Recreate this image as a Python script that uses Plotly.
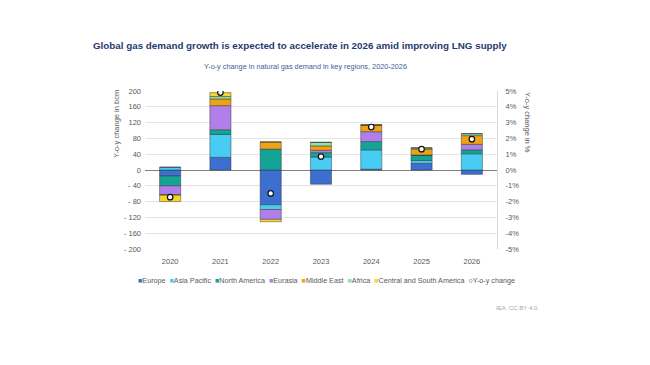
import plotly.graph_objects as go

years = ["2020", "2021", "2022", "2023", "2024", "2025", "2026"]
europe = [-15, 32, -88, -36, 2, 17, -11]
asia_pacific = [7, 58, -12, 33, 49, 7, 41]
north_america = [-25, 12, 53, 11, 21, 14, 10]
eurasia = [-22, 61, -25, 6, 25, 0, 14]
middle_east = [-2, 17, 18, 11, 17, 15, 22]
africa = [0, 6, 0, 9, 0, 3, 5]
central_south_america = [-16, 10, -6, 0, 0, 0, 0]
yoy_pct = [-1.72, 4.9, -1.48, 0.85, 2.72, 1.32, 1.95]

series_names = ["Europe", "Asia Pacific", "North America", "Eurasia", "Middle East", "Africa",
                "Central and South America"]
series_values = [europe, asia_pacific, north_america, eurasia, middle_east, africa, central_south_america]
series_colors = ["#3C6FCF", "#48CCF4", "#14A394", "#B07FEA", "#EFA314", "#8FE3A2", "#F6D52F"]

left_ticks = [200, 160, 120, 80, 40, 0, -40, -80, -120, -160, -200]
left_ticktext = ["200", "160", "120", "80", "40", "0", "- 40", "- 80", "- 120", "- 160", "- 200"]
right_ticks = [5, 4, 3, 2, 1, 0, -1, -2, -3, -4, -5]
right_ticktext = ["5%", "4%", "3%", "2%", "1%", "0%", "-1%", "-2%", "-3%", "-4%", "-5%"]

FONT = "Liberation Sans, Arial, sans-serif"
GRAY = "#595959"

OFF = 8  # page body margin
PL, PR, PT, PB = 145, 497, 91, 249.5  # plot area in page pixels
W, H = 650, 365


def px(xp):
    return (xp - PL) / (PR - PL)


def py(yp):
    return (PB - yp) / (PB - PT)


fig = go.Figure()
for name, vals, col in zip(series_names, series_values, series_colors):
    fig.add_trace(go.Bar(
        x=years, y=vals, name=name,
        marker=dict(color=col, line=dict(color="rgba(45,45,45,0.75)", width=0.6)),
        showlegend=False,
    ))

fig.add_trace(go.Scatter(
    x=years, y=yoy_pct, name="Y-o-y change", mode="markers", yaxis="y2",
    marker=dict(symbol="circle", size=5.5, color="white", line=dict(color="#111111", width=1.2)),
    showlegend=False,
))

fig.update_layout(
    width=W, height=H,
    margin=dict(l=PL - OFF, r=W - (PR - OFF), t=PT - OFF, b=H - (PB - OFF), pad=0),
    paper_bgcolor="white", plot_bgcolor="white",
    barmode="relative", bargap=0.58,
    font=dict(family=FONT, size=8, color=GRAY),
    xaxis=dict(
        type="category", showgrid=False, showline=False, ticks="",
        tickfont=dict(size=7.5, color=GRAY), ticklabelstandoff=6,
    ),
    yaxis=dict(
        range=[-200, 200], tickvals=left_ticks, ticktext=left_ticktext,
        showgrid=True, gridcolor="#E4E4E4", gridwidth=1,
        zeroline=True, zerolinecolor="#808080", zerolinewidth=1,
        showline=False, ticks="", tickfont=dict(size=7.5, color=GRAY),
        ticklabelstandoff=3,
    ),
    yaxis2=dict(
        range=[-5, 5], tickvals=right_ticks, ticktext=right_ticktext,
        overlaying="y", side="right", showgrid=False, zeroline=False,
        showline=True, linecolor="#D9D9D9", linewidth=1, ticks="",
        tickfont=dict(size=7.5, color=GRAY), ticklabelstandoff=6,
    ),
    showlegend=False,
)

# Title and subtitle
fig.add_annotation(
    text="<b>Global gas demand growth is expected to accelerate in 2026 amid improving LNG supply</b>",
    xref="paper", yref="paper", x=px(300), y=py(45),
    xanchor="center", yanchor="middle", showarrow=False,
    font=dict(family=FONT, size=9.8, color="#1F3B6E"),
)
fig.add_annotation(
    text="Y-o-y change in natural gas demand in key regions, 2020-2026",
    xref="paper", yref="paper", x=px(305.5), y=py(66),
    xanchor="center", yanchor="middle", showarrow=False,
    font=dict(family=FONT, size=7.3, color="#3F5F95"),
)

# Axis titles
fig.add_annotation(
    text="Y-o-y change in bcm", textangle=-90,
    xref="paper", yref="paper", x=px(117), y=py(124),
    xanchor="center", yanchor="middle", showarrow=False,
    font=dict(family=FONT, size=7.5, color=GRAY),
)
fig.add_annotation(
    text="Y-o-y change in %", textangle=90,
    xref="paper", yref="paper", x=px(527), y=py(122),
    xanchor="center", yanchor="middle", showarrow=False,
    font=dict(family=FONT, size=7.5, color=GRAY),
)

# Legend built from series names and colours
parts = []
for name, col in zip(series_names, series_colors):
    parts.append(f"<span style='color:{col}'>■</span>{name}")
parts.append("<span style='color:#222222'>○</span>Y-o-y change")
legend_text = "\u00a0\u00a0".join(parts)
fig.add_annotation(
    text=legend_text,
    xref="paper", yref="paper", x=px(326), y=py(281),
    xanchor="center", yanchor="middle", showarrow=False,
    font=dict(family=FONT, size=7.2, color=GRAY),
)

# Source
fig.add_annotation(
    text="IEA. CC BY 4.0.",
    xref="paper", yref="paper", x=px(541), y=py(309),
    xanchor="right", yanchor="middle", showarrow=False,
    font=dict(family=FONT, size=6, color="#A6A6A6"),
)

fig.write_html("out.html")
